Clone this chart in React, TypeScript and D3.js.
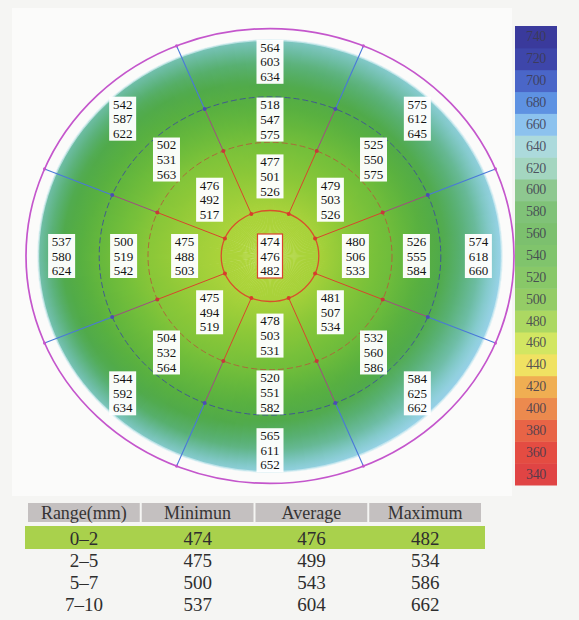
import React from 'react';
import * as d3 from 'd3';

// ---- sector data (order: N, NE, E, SE, S, SW, W, NW), values in µm ----
const sectorNames = ['N', 'NE', 'E', 'SE', 'S', 'SW', 'W', 'NW'];
const centerZone = [474, 476, 482];
const ring2Min = [477, 479, 480, 481, 478, 475, 475, 476];
const ring2Avg = [501, 503, 506, 507, 503, 494, 488, 492];
const ring2Max = [526, 526, 533, 534, 531, 519, 503, 517];
const ring3Min = [518, 525, 526, 532, 520, 504, 500, 502];
const ring3Avg = [547, 550, 555, 560, 551, 532, 519, 531];
const ring3Max = [575, 575, 584, 586, 582, 564, 542, 563];
const ring4Min = [564, 575, 574, 584, 565, 544, 537, 542];
const ring4Avg = [603, 612, 618, 625, 611, 592, 580, 587];
const ring4Max = [634, 645, 660, 662, 652, 634, 624, 622];

// ---- summary table ----
const tableHeaders = ['Range(mm)', 'Minimun', 'Average', 'Maximum'];
const rangeLabels = ['0–2', '2–5', '5–7', '7–10'];
const rangeMin = [474, 475, 500, 537];
const rangeAvg = [476, 499, 543, 604];
const rangeMax = [482, 534, 586, 662];

// ---- colour scale ----
const legendTicks = [340, 360, 380, 400, 420, 440, 460, 480, 500, 520, 540, 560, 580, 600, 620, 640, 660, 680, 700, 720, 740];
const legendColors = ['#e04444', '#e44c42', '#e86446', '#ec8a4e', '#f0ae52', '#f0e262', '#d2e662', '#acd862', '#94cc66', '#88c868', '#80c46c', '#7cc06e', '#80c278', '#8ec890', '#a4d6c0', '#acdadc', '#8cc2ee', '#5e92e2', '#4a66c8', '#3e46aa', '#3a3a9c'];
const mapColors = ['#e03a3a', '#e44a3c', '#e8643c', '#ec8a3c', '#f0ae40', '#f0e040', '#c6e03a', '#a8d23a', '#8cc838', '#76c03a', '#66b83c', '#58b040', '#50aa4a', '#58b072', '#6cbca2', '#84cacc', '#9ad4ea', '#6aa6e4', '#4c7cd4', '#3e4cb0', '#38389c'];

const W = 579;
const H = 620;
const cx = 270;
const cy = 256;
const yRatio = 0.932;
const rScale = d3.scaleLinear().domain([0, 5]).range([0, 244]);
const mapColor = d3.scaleLinear<string>().domain(legendTicks).range(mapColors).clamp(true);

const deg = Math.PI / 180;
const pt = (rmm: number, aDeg: number): [number, number] => [
  cx + rScale(rmm) * Math.sin(aDeg * deg),
  cy - rScale(rmm) * Math.cos(aDeg * deg) * yRatio,
];

const knotRadii = [0, 1, 1.75, 2.5, 3.0, 3.5, 4.25, 4.75];
const sectorKnots = sectorNames.map((_, k) => [
  centerZone[0],
  (centerZone[2] + ring2Min[k]) / 2,
  ring2Avg[k],
  (ring2Max[k] + ring3Min[k]) / 2,
  ring3Avg[k],
  (ring3Max[k] + ring4Min[k]) / 2,
  ring4Avg[k],
  ring4Max[k],
]);

const FIELD_R = 4.75;
const N_WEDGES = 144;

function wedgeData() {
  const step = 360 / N_WEDGES;
  const arc = d3.arc<any>();
  const out: { id: string; d: string; stops: { off: number; color: string }[] }[] = [];
  for (let i = 0; i < N_WEDGES; i++) {
    const a = i * step;
    const s = a / 45;
    const k0 = Math.floor(s) % 8;
    const k1 = (k0 + 1) % 8;
    const t = s - Math.floor(s);
    const vals = knotRadii.map((_, j) => sectorKnots[k0][j] * (1 - t) + sectorKnots[k1][j] * t);
    const prof = d3.scaleLinear().domain(knotRadii).range(vals);
    const stops: { off: number; color: string }[] = [];
    for (let r = 0; r <= FIELD_R + 1e-6; r += 0.125) {
      stops.push({ off: r / FIELD_R, color: mapColor(prof(r)) });
    }
    const d = arc({
      innerRadius: 0,
      outerRadius: rScale(FIELD_R),
      startAngle: (a - step / 2 - 0.4) * deg,
      endAngle: (a + step / 2 + 0.4) * deg,
    }) as string;
    out.push({ id: `wg${i}`, d, stops });
  }
  return out;
}

const serif = "'Liberation Serif', 'DejaVu Serif', 'Times New Roman', serif";
const LINE = 14.6;

function LabelBox({ x, y, vals, border }: { x: number; y: number; vals: number[]; border?: boolean }) {
  const bw = border ? 25 : 27;
  const bh = 44;
  return (
    <g>
      <rect x={x - bw / 2} y={y - bh / 2} width={bw} height={bh} fill="#ffffff" fillOpacity={0.96}
        stroke={border ? '#d8432c' : 'none'} strokeWidth={border ? 1.2 : 0} />
      {vals.map((v, i) => (
        <text key={i} x={x} y={y + (i - 1) * LINE} textAnchor="middle" dominantBaseline="central"
          style={{ fontFamily: serif, fontSize: '13px' }} fill="#141414">{v}</text>
      ))}
    </g>
  );
}

export default function App() {
  const wedges = React.useMemo(wedgeData, []);
  const spokeAngles = d3.range(8).map((k) => 22.5 + 45 * k);
  const sectorAngles = d3.range(8).map((k) => 45 * k);

  const legendBand = d3.scaleBand<number>().domain([...legendTicks].reverse()).range([26, 485]);
  const legendColor = d3.scaleOrdinal<number, string>().domain(legendTicks).range(legendColors);

  const colBand = d3.scaleBand<string>().domain(tableHeaders).range([27, 482]);
  const rowY = d3.scaleBand<string>().domain(rangeLabels).range([526, 614]);
  const tableCols = [rangeLabels, rangeMin, rangeAvg, rangeMax];

  const seg = (r0: number, r1: number, a: number) => {
    const p0 = pt(r0, a);
    const p1 = pt(r1, a);
    return `M${p0[0]},${p0[1]}L${p1[0]},${p1[1]}`;
  };

  return (
    <svg width={W} height={H} viewBox={`0 0 ${W} ${H}`}
      style={{ position: 'fixed', left: 0, top: 0, display: 'block' }}>
      <defs>
        {wedges.map((w) => (
          <radialGradient key={w.id} id={w.id} gradientUnits="userSpaceOnUse" cx={0} cy={0} r={rScale(FIELD_R)}>
            {w.stops.map((s, j) => (
              <stop key={j} offset={s.off} stopColor={s.color} />
            ))}
          </radialGradient>
        ))}
      </defs>
      <rect x={0} y={0} width={W} height={H} fill="#f5f5f3" />
      <rect x={12} y={8} width={500} height={488} fill="#fbfbfa" />

      {/* colour field */}
      <g transform={`translate(${cx},${cy}) scale(1,${yRatio})`}>
        {wedges.map((w) => (
          <path key={w.id} d={w.d} fill={`url(#${w.id})`} />
        ))}
        <circle r={rScale(FIELD_R)} fill="none" stroke="#d6eef2" strokeWidth={2} strokeOpacity={0.7} />
      </g>

      {/* rings */}
      <ellipse cx={cx} cy={cy} rx={rScale(1)} ry={rScale(1) * yRatio} fill="none" stroke="#d8502c" strokeWidth={1.3} />
      <ellipse cx={cx} cy={cy} rx={rScale(2.5)} ry={rScale(2.5) * yRatio} fill="none" stroke="#b0603a" strokeWidth={0.9} strokeDasharray="6 3" />
      <ellipse cx={cx} cy={cy} rx={rScale(3.5)} ry={rScale(3.5) * yRatio} fill="none" stroke="#3e5096" strokeWidth={0.9} strokeDasharray="6 3" />
      <ellipse cx={cx} cy={cy} rx={rScale(5)} ry={rScale(5) * yRatio} fill="none" stroke="#c456cc" strokeWidth={1.7} />

      {/* spokes */}
      {spokeAngles.map((a) => (
        <g key={a}>
          <path d={seg(1, 2.5, a)} stroke="#d8452c" strokeWidth={1} fill="none" />
          <path d={seg(2.5, 3.5, a)} stroke="#a04c82" strokeWidth={1} fill="none" />
          <path d={seg(3.5, 5, a)} stroke="#4a78d8" strokeWidth={1.1} fill="none" />
          <circle cx={pt(1, a)[0]} cy={pt(1, a)[1]} r={2} fill="#d83c2c" />
          <circle cx={pt(2.5, a)[0]} cy={pt(2.5, a)[1]} r={2} fill="#c8383a" />
          <circle cx={pt(3.5, a)[0]} cy={pt(3.5, a)[1]} r={2} fill="#4c4cb4" />
          <circle cx={pt(5, a)[0]} cy={pt(5, a)[1]} r={1.6} fill="#c456cc" />
        </g>
      ))}

      {/* value boxes */}
      <LabelBox x={cx} y={cy} vals={centerZone} border />
      {sectorAngles.map((a, k) => {
        const p2 = pt(1.75, a);
        const p3 = pt(3.0, a);
        const p4 = pt(4.27, a);
        return (
          <g key={a}>
            <LabelBox x={p2[0]} y={p2[1]} vals={[ring2Min[k], ring2Avg[k], ring2Max[k]]} />
            <LabelBox x={p3[0]} y={p3[1]} vals={[ring3Min[k], ring3Avg[k], ring3Max[k]]} />
            <LabelBox x={p4[0]} y={p4[1]} vals={[ring4Min[k], ring4Avg[k], ring4Max[k]]} />
          </g>
        );
      })}

      {/* legend */}
      {legendTicks.map((v) => (
        <g key={v}>
          <rect x={515} y={legendBand(v)!} width={42} height={legendBand.bandwidth() + 0.5} fill={legendColor(v)} />
          <text x={536} y={legendBand(v)! + legendBand.bandwidth() / 2} textAnchor="middle" dominantBaseline="central"
            style={{ fontFamily: serif, fontSize: '14px', letterSpacing: '-0.3px' }} fill="#3c3a4e" fillOpacity={0.85}>{v}</text>
        </g>
      ))}

      {/* table */}
      {tableHeaders.map((h) => (
        <g key={h}>
          <rect x={colBand(h)! + 1} y={503} width={colBand.bandwidth() - 2} height={19} fill="#c4c0c0" />
          <text x={colBand(h)! + colBand.bandwidth() / 2} y={513} textAnchor="middle" dominantBaseline="central"
            style={{ fontFamily: serif, fontSize: '18px' }} fill="#363434">{h}</text>
        </g>
      ))}
      <rect x={25} y={rowY(rangeLabels[0])!} width={460} height={rowY.bandwidth() + 1} fill="#a9d14c" />
      {rangeLabels.map((r, i) => (
        <g key={r}>
          {tableHeaders.map((h, c) => (
            <text key={h} x={colBand(h)! + colBand.bandwidth() / 2} y={rowY(r)! + rowY.bandwidth() / 2 + 1}
              textAnchor="middle" dominantBaseline="central" style={{ fontFamily: serif, fontSize: '19px' }} fill="#2e2e2e">
              {tableCols[c][i]}
            </text>
          ))}
        </g>
      ))}
    </svg>
  );
}
